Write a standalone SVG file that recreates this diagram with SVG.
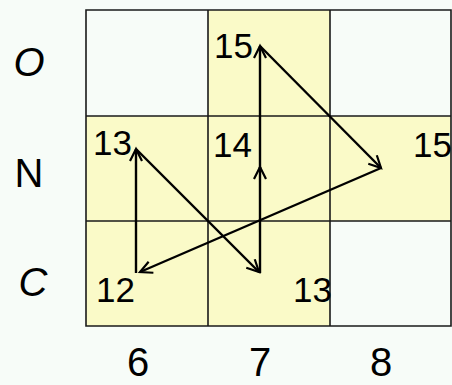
<svg xmlns="http://www.w3.org/2000/svg" width="452" height="385" viewBox="0 0 452 385">
<defs>
<marker id="arr" markerUnits="userSpaceOnUse" markerWidth="16" markerHeight="16" refX="13" refY="8" orient="auto">
<path d="M1,2 L13,8 L1,14" fill="none" stroke="#000" stroke-width="2.2"/>
</marker>
<style>
.yel{fill:#fafac8;}
.wht{fill:#f7fcf8;}
.grid{stroke:#1a1a1a;stroke-width:1.6;fill:none;}
.num{font-family:"Liberation Sans",Arial,sans-serif;font-size:35px;fill:#000;}
.ax{font-family:"Liberation Sans",Arial,sans-serif;font-size:40px;fill:#000;text-anchor:middle;}
.conn{stroke:#000;stroke-width:2.4;fill:none;marker-end:url(#arr);}
</style>
</defs>
<rect x="0" y="0" width="452" height="385" fill="#f7fcf8"/>
<g id="cells">
<rect class="wht" x="86" y="10" width="122" height="106"/>
<rect class="yel" x="208" y="10" width="122" height="106"/>
<rect class="wht" x="330" y="10" width="121" height="106"/>
<rect class="yel" x="86" y="116" width="122" height="105"/>
<rect class="yel" x="208" y="116" width="122" height="105"/>
<rect class="yel" x="330" y="116" width="121" height="105"/>
<rect class="yel" x="86" y="221" width="122" height="105"/>
<rect class="yel" x="208" y="221" width="122" height="105"/>
<rect class="wht" x="330" y="221" width="121" height="105"/>
<path class="grid" d="M86,10 H451 V326 H86 Z M208,10 V326 M330,10 V326 M86,116 H451 M86,221 H451"/>
</g>
<g id="axes">
<text class="ax" x="29" y="76" font-style="italic">O</text>
<text class="ax" x="29" y="187">N</text>
<text class="ax" x="33" y="296" font-style="italic">C</text>
<text class="ax" x="138" y="376" font-size="37">6</text>
<text class="ax" x="260" y="376" font-size="37">7</text>
<text class="ax" x="381" y="376" font-size="37">8</text>
</g>
<g id="connectors">
<line class="conn" x1="136" y1="273" x2="136" y2="149"/>
<line class="conn" x1="136" y1="149" x2="259" y2="272"/>
<line class="conn" x1="260" y1="273" x2="260" y2="167"/>
<line class="conn" x1="260" y1="168" x2="260" y2="46"/>
<line class="conn" x1="260" y1="46" x2="381" y2="168"/>
<line class="conn" x1="381" y1="168" x2="140" y2="272"/>
</g>
<g id="n-6N"><text class="num" x="93" y="155">13</text></g>
<g id="n-7O"><text class="num" x="214" y="58">15</text></g>
<g id="n-7N"><text class="num" x="213" y="157">14</text></g>
<g id="n-8N"><text class="num" x="413" y="157">15</text></g>
<g id="n-6C"><text class="num" x="96" y="302">12</text></g>
<g id="n-7C"><text class="num" x="293" y="302">13</text></g>
</svg>
